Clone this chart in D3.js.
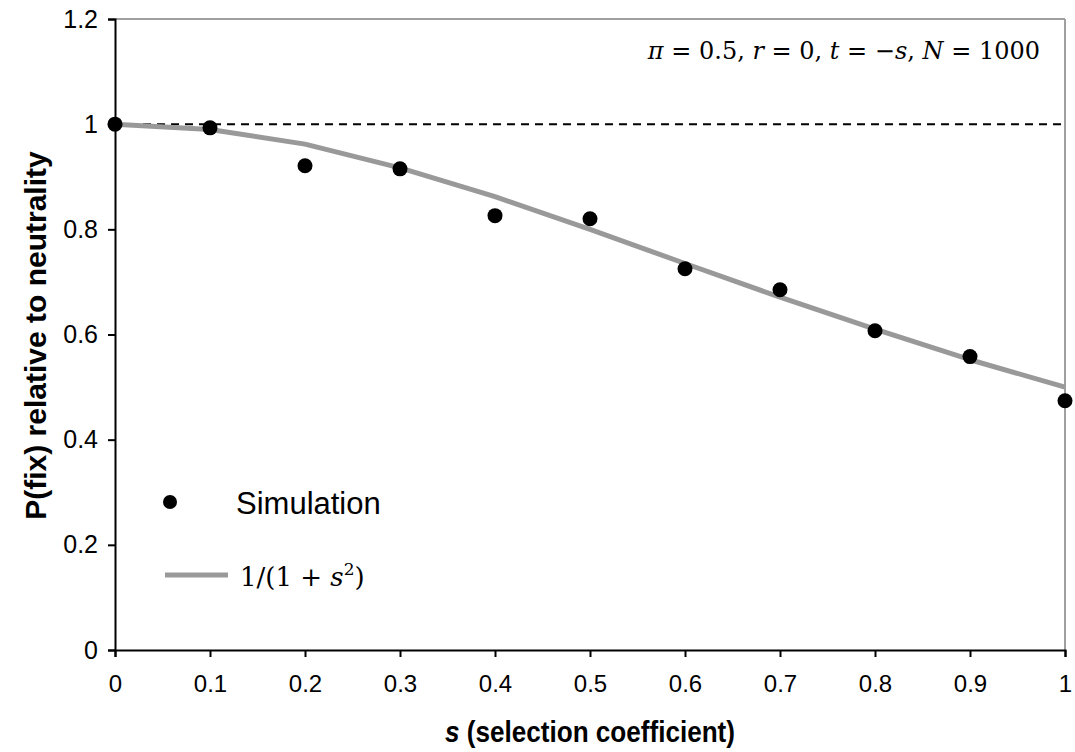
<!DOCTYPE html>
<html>
<head>
<meta charset="utf-8">
<script src="https://cdn.jsdelivr.net/npm/d3@7/dist/d3.min.js"></script>
<style>
  body { margin: 0; background: #fff; }
  svg { display: block; }
</style>
</head>
<body>
<svg id="chart" width="1075" height="752"></svg>
<script>
// Selection coefficient values
const sValues = [0, 0.1, 0.2, 0.3, 0.4, 0.5, 0.6, 0.7, 0.8, 0.9, 1.0];
// Simulated fixation probability relative to neutrality
const simulation = [1.0, 0.993, 0.921, 0.915, 0.826, 0.820, 0.725, 0.685, 0.607, 0.558, 0.474];
// Analytic prediction 1/(1+s^2) at each s
const prediction = [1.0, 0.990, 0.962, 0.917, 0.862, 0.800, 0.735, 0.671, 0.610, 0.552, 0.500];
// Neutral reference level
const neutralLevel = 1;
const xTicks = [0, 0.1, 0.2, 0.3, 0.4, 0.5, 0.6, 0.7, 0.8, 0.9, 1];
const yTicks = [0, 0.2, 0.4, 0.6, 0.8, 1, 1.2];

const svg = d3.select("#chart");
const plotLeft = 115, plotRight = 1065, plotTop = 19, plotBottom = 650;

const x = d3.scaleLinear().domain([0, 1]).range([plotLeft, plotRight]);
const y = d3.scaleLinear().domain([0, 1.2]).range([plotBottom, plotTop]);

// Grey frame on top and right
svg.append("line").attr("x1", plotLeft).attr("x2", plotRight).attr("y1", plotTop).attr("y2", plotTop)
  .attr("stroke", "#a0a0a0").attr("stroke-width", 2);
svg.append("line").attr("x1", plotRight).attr("x2", plotRight).attr("y1", plotTop).attr("y2", plotBottom)
  .attr("stroke", "#a0a0a0").attr("stroke-width", 2);

// Axes
const fmt = d => d3.format("~g")(d);
const yAxis = svg.append("g").attr("transform", `translate(${plotLeft},0)`)
  .call(d3.axisLeft(y).tickValues(yTicks).tickFormat(fmt).tickSize(7).tickPadding(10));
const xAxis = svg.append("g").attr("transform", `translate(0,${plotBottom})`)
  .call(d3.axisBottom(x).tickValues(xTicks).tickFormat(fmt).tickSize(7).tickPadding(18));

[yAxis, xAxis].forEach(g => {
  g.select(".domain").attr("stroke", "#000").attr("stroke-width", 2);
  g.selectAll(".tick line").attr("stroke", "#000").attr("stroke-width", 2);
});
yAxis.selectAll(".tick text").attr("font-family", "Liberation Sans, Arial, sans-serif")
  .attr("font-size", 25).attr("fill", "#000");
xAxis.selectAll(".tick text").attr("font-family", "Liberation Sans, Arial, sans-serif")
  .attr("font-size", 24).attr("fill", "#000");

// Neutral dashed line
svg.append("line")
  .attr("x1", x(0)).attr("x2", x(1))
  .attr("y1", y(neutralLevel)).attr("y2", y(neutralLevel))
  .attr("stroke", "#000").attr("stroke-width", 2).attr("stroke-dasharray", "8,6");

// Prediction curve
const line = d3.line().x((d, i) => x(sValues[i])).y(d => y(d));
svg.append("path").datum(prediction)
  .attr("d", line).attr("fill", "none")
  .attr("stroke", "#999").attr("stroke-width", 5).attr("stroke-linejoin", "round");

// Simulation points
svg.selectAll("circle.sim").data(simulation).enter().append("circle")
  .attr("class", "sim")
  .attr("cx", (d, i) => x(sValues[i])).attr("cy", d => y(d))
  .attr("r", 7.5).attr("fill", "#000");

// Legend
svg.append("circle").attr("cx", 170).attr("cy", 502).attr("r", 7).attr("fill", "#000");
svg.append("text").attr("x", 236).attr("y", 514)
  .attr("font-family", "Liberation Sans, Arial, sans-serif").attr("font-size", 31)
  .text("Simulation");
svg.append("line").attr("x1", 165).attr("x2", 228).attr("y1", 575).attr("y2", 575)
  .attr("stroke", "#999").attr("stroke-width", 5);
const lg = svg.append("text").attr("x", 240).attr("y", 586)
  .attr("font-family", "DejaVu Serif, serif").attr("font-size", 26);
lg.append("tspan").text("1/(1 + ");
lg.append("tspan").attr("font-style", "italic").text("s");
lg.append("tspan").attr("font-size", 17).attr("dy", -11).text("2");
lg.append("tspan").attr("dy", 11).text(")");

// Parameter annotation
const ann = svg.append("text").attr("x", 1040).attr("y", 59).attr("text-anchor", "end")
  .attr("font-family", "DejaVu Serif, serif").attr("font-size", 24);
ann.append("tspan").attr("font-style", "italic").text("π");
ann.append("tspan").text(" = 0.5, ");
ann.append("tspan").attr("font-style", "italic").text("r");
ann.append("tspan").text(" = 0, ");
ann.append("tspan").attr("font-style", "italic").text("t");
ann.append("tspan").text(" = −");
ann.append("tspan").attr("font-style", "italic").text("s");
ann.append("tspan").text(", ");
ann.append("tspan").attr("font-style", "italic").text("N");
ann.append("tspan").text(" = 1000");

// Axis titles
svg.append("text")
  .attr("transform", `translate(46,${(plotTop + plotBottom) / 2 + 1}) rotate(-90)`)
  .attr("text-anchor", "middle")
  .attr("font-family", "Liberation Sans, Arial, sans-serif").attr("font-size", 30).attr("font-weight", "bold")
  .text("P(fix) relative to neutrality");

// Condensed bold x-axis title
const xt = svg.append("text")
  .attr("transform", "translate(590,742) scale(0.87,1)")
  .attr("text-anchor", "middle")
  .attr("font-family", "Liberation Sans, Arial, sans-serif")
  .attr("font-size", 30).attr("font-weight", "bold");
xt.append("tspan").attr("font-style", "italic").text("s");
xt.append("tspan").text(" (selection coefficient)");
</script>
</body>
</html>
